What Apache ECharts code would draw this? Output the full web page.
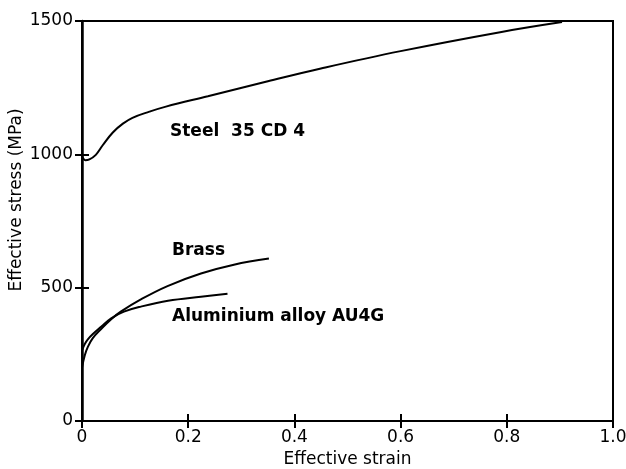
<!DOCTYPE html>
<html><head><meta charset="utf-8">
<script src="https://cdn.jsdelivr.net/npm/echarts@6/dist/echarts.min.js"></script>
<style>html,body{margin:0;padding:0;background:#fff}#c{width:626px;height:469px}</style>
</head><body><div id="c"></div>
<script>
const xTicks = [0, 0.2, 0.4, 0.6, 0.8, 1.0];
const yTicks = [0, 500, 1000, 1500];
const steelStrain = [0, 0.006, 0.014, 0.026, 0.039, 0.058, 0.077, 0.095, 0.127, 0.158, 0.237, 0.35, 0.45, 0.6, 0.79, 0.904];
const steelStress = [993, 978, 981, 998, 1034, 1082, 1115, 1137, 1160, 1179, 1218, 1274, 1322, 1387, 1459, 1496];
const brassStrain = [0, 0.005, 0.011, 0.02, 0.036, 0.055, 0.073, 0.11, 0.161, 0.224, 0.286, 0.352];
const brassStress = [200, 245, 278, 310, 345, 382, 410, 455, 506, 553, 586, 609];
const aluStrain = [0, 0.005, 0.011, 0.02, 0.036, 0.055, 0.079, 0.111, 0.162, 0.224, 0.274];
const aluStress = [265, 288, 306, 325, 353, 385, 410, 429, 451, 466, 477];
const labels = ["Steel  35 CD 4", "Brass", "Aluminium alloy AU4G"];
const xName = "Effective strain";
const yName = "Effective stress (MPa)";

const pair = (xs, ys) => xs.map((x, i) => [x, ys[i]]);
const chart = echarts.init(document.getElementById('c'));
const FONT = 'DejaVu Sans';
const lineSeries = (name, data) => ({
  name, type: 'line', data, smooth: 0.4, symbol: 'none',
  lineStyle: { color: '#000', width: 2 }, xAxisIndex: 0, yAxisIndex: 0
});
const tick = { inside: true, length: 7, lineStyle: { color: '#000', width: 2 } };
chart.setOption({
  animation: false,
  backgroundColor: '#fff',
  grid: { left: 82, right: 13, top: 21, bottom: 48, show: true, borderColor: '#000', borderWidth: 2,
          containLabel: false, outerBoundsMode: 'none' },
  xAxis: [{
    type: 'value', min: 0, max: 1, interval: 0.2, position: 'bottom',
    name: xName, nameLocation: 'middle', nameGap: 30,
    nameTextStyle: { fontFamily: FONT, fontSize: 17, color: '#000' },
    axisLine: { lineStyle: { color: '#000', width: 2 } },
    axisTick: tick,
    axisLabel: { fontFamily: FONT, fontSize: 17, color: '#000', margin: 8,
      formatter: v => v === 0 ? '0' : v.toFixed(1) },
    splitLine: { show: false }
  }, {
    type: 'value', min: 0, max: 1, interval: 0.2, position: 'top',
    axisLine: { lineStyle: { color: '#000', width: 2 } },
    axisTick: tick, axisLabel: { show: false }, splitLine: { show: false }
  }],
  yAxis: [{
    type: 'value', min: 0, max: 1500, interval: 500, position: 'left',
    axisLine: { lineStyle: { color: '#000', width: 2.5 } },
    axisTick: tick,
    axisLabel: { fontFamily: FONT, fontSize: 17, color: '#000', margin: 9,
      formatter: v => String(v) },
    splitLine: { show: false }
  }, {
    type: 'value', min: 0, max: 1500, interval: 500, position: 'right',
    axisLine: { lineStyle: { color: '#000', width: 2 } },
    axisTick: tick, axisLabel: { show: false }, splitLine: { show: false }
  }],
  series: [
    lineSeries('Steel', pair(steelStrain, steelStress)),
    lineSeries('Brass', pair(brassStrain, brassStress)),
    lineSeries('Aluminium', pair(aluStrain, aluStress))
  ],
  graphic: [
    { type: 'text', x: 17, y: 200, rotation: Math.PI / 2,
      style: { text: yName, font: '17px ' + FONT, fill: '#000', textAlign: 'center', textVerticalAlign: 'middle' } },
    { type: 'text', left: 170, top: 123, style: { text: labels[0], font: 'bold 17px ' + FONT, fill: '#000' } },
    { type: 'text', left: 172, top: 242, style: { text: labels[1], font: 'bold 17px ' + FONT, fill: '#000' } },
    { type: 'text', left: 172, top: 308, style: { text: labels[2], font: 'bold 17px ' + FONT, fill: '#000' } }
  ]
});
</script></body></html>
